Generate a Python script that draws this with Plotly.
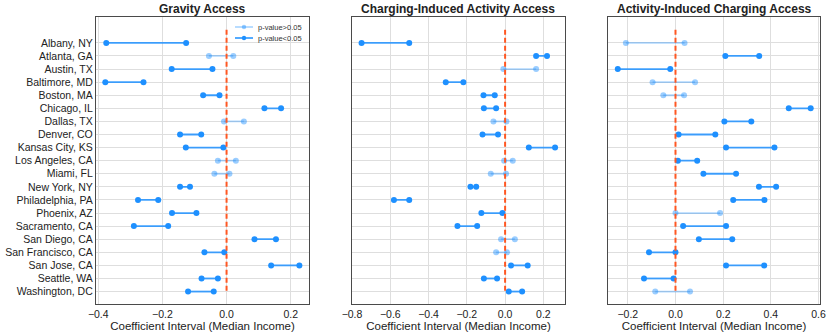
import plotly.graph_objects as go

cities = ["Albany, NY", "Atlanta, GA", "Austin, TX", "Baltimore, MD", "Boston, MA",
          "Chicago, IL", "Dallas, TX", "Denver, CO", "Kansas City, KS", "Los Angeles, CA",
          "Miami, FL", "New York, NY", "Philadelphia, PA", "Phoenix, AZ", "Sacramento, CA",
          "San Diego, CA", "San Francisco, CA", "San Jose, CA", "Seattle, WA", "Washington, DC"]

titles = ["Gravity Access", "Charging-Induced Activity Access", "Activity-Induced Charging Access"]
legend_labels = ["p-value>0.05", "p-value<0.05"]

# lower / upper bounds of the coefficient intervals, and significance (True = p<0.05)
gravity_lo = [-0.375, -0.055, -0.171, -0.378, -0.073, 0.118, -0.008, -0.145, -0.127, -0.027,
              -0.038, -0.145, -0.276, -0.170, -0.289, 0.087, -0.069, 0.139, -0.078, -0.120]
gravity_hi = [-0.126, 0.021, -0.044, -0.259, -0.022, 0.170, 0.054, -0.079, -0.010, 0.029,
              0.009, -0.114, -0.213, -0.094, -0.182, 0.154, -0.007, 0.227, -0.027, -0.040]
gravity_sig = [True, False, True, True, True, True, False, True, True, False,
               False, True, True, True, True, True, True, True, True, True]

cia_lo = [-0.750, 0.162, -0.009, -0.310, -0.113, -0.111, -0.061, -0.118, 0.124, -0.005,
          -0.075, -0.181, -0.581, -0.124, -0.249, -0.021, -0.047, 0.031, -0.111, 0.019]
cia_hi = [-0.501, 0.219, 0.162, -0.218, -0.054, -0.047, 0.007, -0.037, 0.261, 0.040,
          0.005, -0.151, -0.501, -0.014, -0.146, 0.051, 0.010, 0.118, -0.042, 0.089]
cia_sig = [True, True, False, True, True, True, False, True, True, False,
           False, True, True, True, True, False, False, True, True, True]

aic_lo = [-0.208, 0.209, -0.242, -0.096, -0.051, 0.475, 0.205, 0.013, 0.212, 0.010,
          0.117, 0.350, 0.242, 0.000, 0.032, 0.098, -0.111, 0.212, -0.132, -0.085]
aic_hi = [0.038, 0.351, -0.022, 0.082, 0.036, 0.567, 0.318, 0.167, 0.415, 0.091,
          0.254, 0.422, 0.373, 0.187, 0.212, 0.238, 0.000, 0.372, -0.008, 0.061]
aic_sig = [False, True, True, False, False, True, True, True, True, True,
           True, True, True, False, True, True, True, True, True, False]

x_ranges = [[-0.407, 0.257], [-0.800, 0.313], [-0.283, 0.606]]
x_ticks = [[-0.4, -0.2, 0.0, 0.2],
           [-0.8, -0.6, -0.4, -0.2, 0.0, 0.2],
           [-0.2, 0.0, 0.2, 0.4, 0.6]]

panels = [(gravity_lo, gravity_hi, gravity_sig),
          (cia_lo, cia_hi, cia_sig),
          (aic_lo, aic_hi, aic_sig)]

W, H = 831, 335
x_domains = [[96 / W, 309 / W], [352 / W, 565 / W], [608 / W, 820 / W]]
y_domain = [1 - 304 / H, 1 - 16.7 / H]

SIG_MARK = "#1E90FF"
SIG_LINE = "rgba(30,144,255,0.85)"
NS_MARK = "rgba(30,144,255,0.45)"
NS_LINE = "rgba(30,144,255,0.35)"
REF = "#FF5722"
FONT = "Liberation Sans, Arial, sans-serif"

fig = go.Figure()
ypos = list(range(len(cities)))

for p, (lo, hi, sig) in enumerate(panels):
    xa = "x" if p == 0 else f"x{p+1}"
    ya = "y" if p == 0 else f"y{p+1}"
    for is_sig in (False, True):
        xs, ys = [], []
        for i in range(len(cities)):
            if sig[i] == is_sig:
                xs += [lo[i], hi[i], None]
                ys += [ypos[i], ypos[i], None]
        fig.add_trace(go.Scatter(
            x=xs, y=ys, mode="lines+markers", xaxis=xa, yaxis=ya,
            line=dict(color=SIG_LINE if is_sig else NS_LINE, width=1.8),
            marker=dict(color=SIG_MARK if is_sig else NS_MARK, size=6),
            name=legend_labels[1] if is_sig else legend_labels[0],
            showlegend=False, hoverinfo="x+y"))
    # reference line at zero
    fig.add_trace(go.Scatter(
        x=[0, 0], y=[-1, len(cities) - 1], mode="lines", xaxis=xa, yaxis=ya,
        line=dict(color=REF, width=2, dash="5px,3px"), showlegend=False, hoverinfo="skip"))

    axis_common = dict(showline=True, mirror=True, linecolor="#4a4a4a", linewidth=1.3,
                       showgrid=True, gridcolor="#dedede", gridwidth=1, zeroline=False,
                       automargin=False,
                       ticks="", tickfont=dict(family=FONT, size=10.5, color="#222"))
    fig.layout[f"xaxis{'' if p == 0 else p+1}"] = dict(
        domain=x_domains[p], anchor=ya, range=x_ranges[p],
        tickvals=x_ticks[p],
        ticktext=[("\u2212" if v < 0 else "") + f"{abs(v):.1f}" for v in x_ticks[p]],
        title=dict(text="Coefficient Interval (Median Income)", standoff=3,
                   font=dict(family=FONT, size=11.5, color="#222")),
        **axis_common)
    fig.layout[f"yaxis{'' if p == 0 else p+1}"] = dict(
        domain=y_domain, anchor=xa, range=[19.95, -2.0],
        tickvals=ypos, ticktext=cities if p == 0 else [""] * len(cities),
        showticklabels=(p == 0), **axis_common)
    fig.add_annotation(text=f"<b>{titles[p]}</b>", xref="paper", yref="paper",
                       x=sum(x_domains[p]) / 2, y=1 - 9 / H, xanchor="center", yanchor="middle",
                       showarrow=False, font=dict(family=FONT, size=12, color="#222"))

# manual compact legend (top-right of first panel)
leg_rows = [27, 38]
leg_styles = [(NS_LINE, NS_MARK), (SIG_LINE, SIG_MARK)]
for r, (lbl, (lc, mc)) in enumerate(zip(legend_labels, leg_styles)):
    yy = 1 - leg_rows[r] / H
    fig.add_shape(type="line", xref="paper", yref="paper", x0=235 / W, x1=253 / W,
                  y0=yy, y1=yy, line=dict(color=lc, width=1.8))
    fig.add_shape(type="circle", xref="paper", yref="paper",
                  x0=241.8 / W, x1=246.2 / W, y0=yy - 2.2 / H, y1=yy + 2.2 / H,
                  fillcolor=mc, line=dict(width=0))
    fig.add_annotation(text=lbl, xref="paper", yref="paper", x=256 / W, y=yy,
                       xanchor="left", yanchor="middle", showarrow=False,
                       font=dict(family=FONT, size=7.5, color="#333"))

fig.update_layout(
    width=W, height=H, margin=dict(l=0, r=0, t=0, b=0, autoexpand=False),
    paper_bgcolor="white", plot_bgcolor="white", showlegend=False,
    font=dict(family=FONT),
)
fig.write_html("out.html", config={"displayModeBar": False},
               post_script="document.body.style.margin='0';document.body.style.overflow='hidden';")
